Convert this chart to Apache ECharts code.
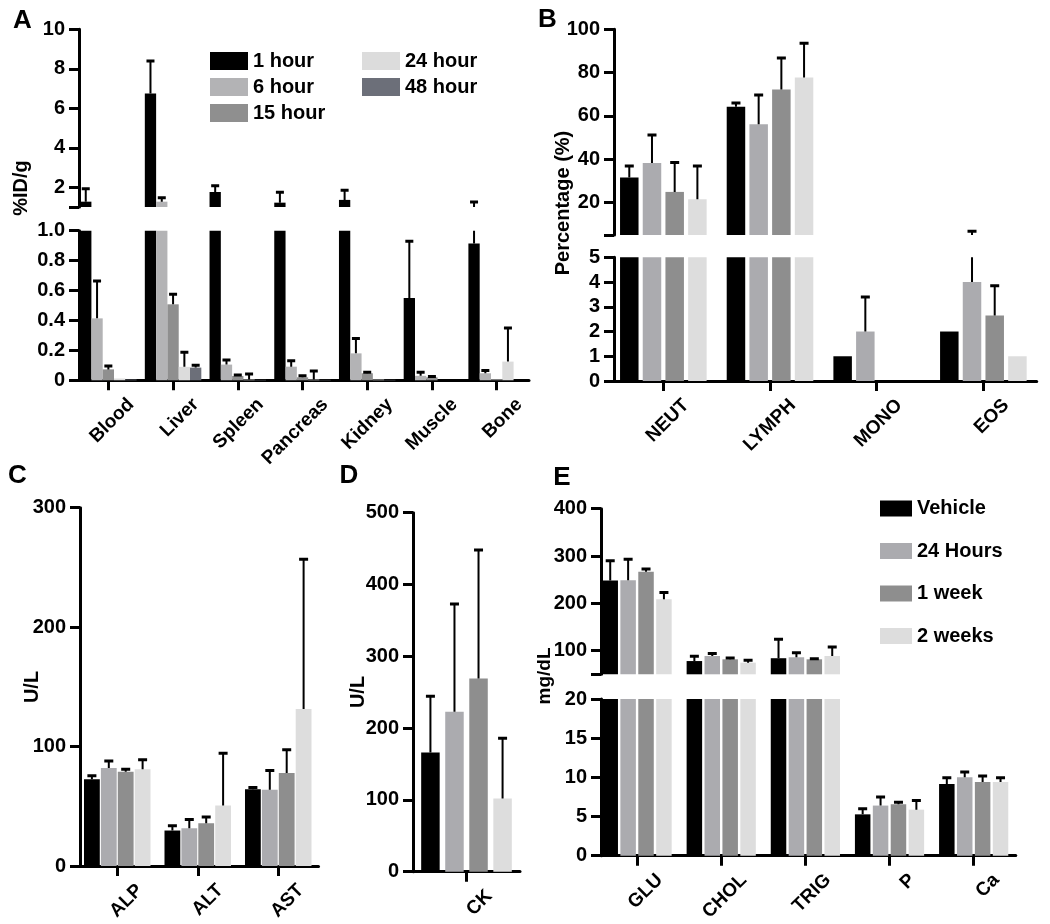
<!DOCTYPE html>
<html><head><meta charset="utf-8">
<script src="https://cdn.jsdelivr.net/npm/echarts@6/dist/echarts.min.js"></script>
<style>html,body{margin:0;padding:0;background:#fff}#c{width:1050px;height:924px}</style>
</head><body><div id="c"></div>
<script>
// ---------- Panel A: biodistribution ----------
const catsA = ['Blood','Liver','Spleen','Pancreas','Kidney','Muscle','Bone'];
const namesA = ['1 hour','6 hour','15 hour','24 hour','48 hour'];
const a1h   = [1.27, 6.75, 1.76, 1.22, 1.36, 0.55, 0.915];
const a1hE  = [0.66, 1.65, 0.31, 0.53, 0.49, 0.38, 0.335];
const a6h   = [0.414, 1.27, 0.105, 0.091, 0.18, 0.03, 0.047];
const a6hE  = [0.25, 0.20, 0.031, 0.04, 0.10, 0.023, 0.018];
const a15h  = [0.073, 0.508, 0.029, 0.02, 0.047, 0.02, 0.008];
const a15hE = [0.023, 0.067, 0.006, 0.01, 0.006, 0.005, 0];
const a24h  = [0.012, 0.09, 0.005, 0.005, 0.005, 0, 0.125];
const a24hE = [0, 0.097, 0.037, 0.057, 0, 0, 0.225];
const a48h  = [0.005, 0.085, 0.003, 0.003, 0.003, 0, 0];
const a48hE = [0, 0.015, 0, 0, 0, 0, 0];
const ticksAUp = [1, 2, 4, 6, 8, 10];
const labelsAUp = [2, 4, 6, 8, 10];

// ---------- Panel B: blood differential ----------
const catsB = ['NEUT','LYMPH','MONO','EOS'];
const namesG = ['Vehicle','24 Hours','1 week','2 weeks'];
const bVeh  = [31.5, 64.2, 1, 2];
const bVehE = [5.4, 1.8, 0, 0];
const b24   = [38.3, 56.2, 2, 4];
const b24E  = [12.9, 13.4, 1.4, 2.7];
const b1w   = [24.9, 72.2, 0, 2.65];
const b1wE  = [13.6, 14.6, 0, 1.2];
const b2w   = [21.5, 77.7, 0, 1];
const b2wE  = [15.4, 15.9, 0, 0];
const ticksBUp = [5, 20, 40, 60, 80, 100];
const labelsBUp = [20, 40, 60, 80, 100];

// ---------- Panel C: liver enzymes ----------
const catsC = ['ALP','ALT','AST'];
const cVeh  = [72.7, 29.7, 64.3];
const cVehE = [2.8, 4.1, 1.4];
const c24   = [82, 31.6, 63.8];
const c24E  = [6, 7.4, 16.2];
const c1w   = [79, 35.8, 77.8];
const c1wE  = [2, 5.2, 19.5];
const c2w   = [81, 50.6, 131.5];
const c2wE  = [8, 43.9, 125.3];

// ---------- Panel D: CK ----------
const catsD = ['CK'];
const dVeh = [166], dVehE = [78.5];
const d24  = [222.7], d24E = [150];
const d1w  = [269], d1wE = [179];
const d2w  = [102], d2wE = [84];

// ---------- Panel E: chemistry ----------
const catsE = ['GLU','CHOL','TRIG','P','Ca'];
const eVeh  = [248, 78, 84, 5.28, 9.16];
const eVehE = [42, 10, 40, 0.72, 0.8];
const e24   = [249, 88.7, 86, 6.4, 10.0];
const e24E  = [44, 5, 9.8, 1.08, 0.68];
const e1w   = [267, 81.7, 81.7, 6.56, 9.4];
const e1wE  = [5.5, 2.8, 1.3, 0.28, 0.76];
const e2w   = [208.5, 74.6, 88.7, 5.88, 9.4];
const e2wE  = [14.5, 5, 19, 1.16, 0.56];
const ticksEUp = [50, 100, 200, 300, 400];
const labelsEUp = [100, 200, 300, 400];

// ---------- styling ----------
const FONT = "'Liberation Sans', Arial, Helvetica, sans-serif";
const colA = ['#000000','#b3b3b5','#8f8f8f','#dcdcdc','#6c6f79'];
const colG = ['#000000','#ababaf','#8e8e8e','#dddddd'];

function yAx(gi, min, max, offset, interval, tickVals, labelVals, fmt) {
  const ax = {type:'value', gridIndex:gi, min:min, max:max, offset:offset,
    splitLine:{show:false},
    axisLine:{show:true, lineStyle:{color:'#000', width:3}},
    axisTick:{show:true, length:10, lineStyle:{color:'#000', width:3}},
    axisLabel:{color:'#000', fontSize:20, fontWeight:'bold', fontFamily:FONT, margin:14,
      formatter: fmt || function(v){ return String(Math.round(v)); }}
  };
  if (interval) ax.interval = interval;
  if (tickVals) { ax.axisTick.customValues = tickVals; ax.axisLabel.customValues = labelVals; }
  return ax;
}
function xAx(gi, cats, show) {
  return {type:'category', gridIndex:gi, data:cats, show:show,
    axisLine:{show:true, onZero:false, lineStyle:{color:'#000', width:3}},
    axisTick:{show:true, alignWithLabel:true, length:10, lineStyle:{color:'#000', width:3}},
    axisLabel:{interval:0, rotate:45, color:'#000', fontSize:19, fontWeight:'bold', fontFamily:FONT,
      margin:44, padding:[0,-32,0,0]}
  };
}
function bars(gi, name, data, color, bw, gap) {
  return {type:'bar', name:name, xAxisIndex:gi, yAxisIndex:gi, data:data, barWidth:bw, barGap:gap,
    itemStyle:{color:color}, clip:true, animation:false, emphasis:{disabled:true}};
}
function errs(gi, vals, es, bw, gapFrac, capHalf) {
  const n = vals.length;
  const data = [];
  vals.forEach(function(arr, si){ arr.forEach(function(v, ci){ const e = es[si][ci]; if (e > 0) data.push([ci, si, v + e, v]); }); });
  return {type:'custom', xAxisIndex:gi, yAxisIndex:gi, clip:true, silent:true, z:5, data:data,
    encode:{x:0, y:2}, animation:false,
    renderItem: function(params, api){
      const ci = api.value(0), si = api.value(1);
      const p1 = api.coord([ci, api.value(2)]);
      const p0 = api.coord([ci, api.value(3)]);
      const x = p0[0] + (si - (n-1)/2) * bw * (1 + gapFrac);
      return {type:'group', children:[
        {type:'line', shape:{x1:x, y1:p0[1], x2:x, y2:p1[1]}, style:{stroke:'#000', lineWidth:2}},
        {type:'line', shape:{x1:x-capHalf, y1:p1[1], x2:x+capHalf, y2:p1[1]}, style:{stroke:'#000', lineWidth:3}}
      ]};
    }};
}
function txt(x, y, text, size, rot) {
  return {type:'text', x:x, y:y, rotation:rot||0, silent:true,
    style:{text:text, font:'bold '+size+'px '+FONT, fill:'#000', align:'center', verticalAlign:'middle',
      textAlign:'center', textVerticalAlign:'middle'}};
}

const grids = [
  {left:76, top:29.3, width:453, height:177.7},     // A upper
  {left:76, top:230.7, width:453, height:149.6},    // A lower
  {left:610, top:29.3, width:426.7, height:205.7},  // B upper
  {left:610, top:257.3, width:426.7, height:123.7}, // B lower
  {left:77, top:507.7, width:241.5, height:358.3},  // C
  {left:413, top:512.7, width:107, height:359},     // D
  {left:595, top:508.7, width:420.75, height:165.6},// E upper
  {left:595, top:699, width:420.75, height:166.7}   // E lower
];

const xAxes = [
  xAx(0, catsA, false), xAx(1, catsA, true),
  xAx(2, catsB, false), xAx(3, catsB, true),
  xAx(4, catsC, true), xAx(5, catsD, true),
  xAx(6, catsE, false), xAx(7, catsE, true)
];
const yAxes = [
  yAx(0, 1, 10, -3, null, ticksAUp, labelsAUp),
  yAx(1, 0, 1, -3, 0.2, null, null, function(v){ return v === 0 ? '0' : v.toFixed(1); }),
  yAx(2, 5, 100, -4, null, ticksBUp, labelsBUp),
  yAx(3, 0, 5, -4, 1),
  yAx(4, 0, 300, -3, 100),
  yAx(5, 0, 500, 0, 100),
  yAx(6, 50, 400, -6, null, ticksEUp, labelsEUp),
  yAx(7, 0, 20, -6, 5)
];

const series = [];
const aVals = [a1h, a6h, a15h, a24h, a48h];
const aErrs = [a1hE, a6hE, a15hE, a24hE, a48hE];
[0, 1].forEach(function(gi){
  aVals.forEach(function(d, i){ series.push(bars(gi, namesA[i], d, colA[i], 11.3, '0%')); });
  series.push(errs(gi, aVals, aErrs, 11.3, 0, 4));
});
const bVals = [bVeh, b24, b1w, b2w], bErrs = [bVehE, b24E, b1wE, b2wE];
[2, 3].forEach(function(gi){
  bVals.forEach(function(d, i){ series.push(bars(gi, namesG[i], d, colG[i], 18.5, '22.7%')); });
  series.push(errs(gi, bVals, bErrs, 18.5, 0.227, 4.5));
});
const cVals = [cVeh, c24, c1w, c2w], cErrs = [cVehE, c24E, c1wE, c2wE];
cVals.forEach(function(d, i){ series.push(bars(4, namesG[i], d, colG[i], 15.8, '7%')); });
series.push(errs(4, cVals, cErrs, 15.8, 0.07, 4.5));
const dVals = [dVeh, d24, d1w, d2w], dErrs = [dVehE, d24E, d1wE, d2wE];
dVals.forEach(function(d, i){ series.push(bars(5, namesG[i], d, colG[i], 18.5, '30%')); });
series.push(errs(5, dVals, dErrs, 18.5, 0.30, 4.5));
const eVals = [eVeh, e24, e1w, e2w], eErrs = [eVehE, e24E, e1wE, e2wE];
[6, 7].forEach(function(gi){
  eVals.forEach(function(d, i){ series.push(bars(gi, namesG[i], d, colG[i], 15.5, '15.5%')); });
  series.push(errs(gi, eVals, eErrs, 15.5, 0.155, 4.5));
});

const legendText = {fontSize:20, fontWeight:'bold', color:'#000', fontFamily:FONT, lineHeight:18};
const option = {
  animation:false,
  backgroundColor:'#fff',
  grid: grids,
  xAxis: xAxes,
  yAxis: yAxes,
  legend: [
    {data:namesA.slice(0,3), orient:'vertical', left:210, top:51, itemWidth:38, itemHeight:18, itemGap:6,
      icon:'rect', selectedMode:false, textStyle:legendText, padding:0},
    {data:namesA.slice(3), orient:'vertical', left:362, top:51, itemWidth:38, itemHeight:18, itemGap:6,
      icon:'rect', selectedMode:false, textStyle:legendText, padding:0},
    {data:namesG, orient:'vertical', left:880, top:498.5, itemWidth:32, itemHeight:16, itemGap:22.5,
      icon:'rect', selectedMode:false, textStyle:Object.assign({}, legendText, {lineHeight:16}), padding:0}
  ],
  graphic: [
    txt(22.5, 21, 'A', 26), txt(547.5, 19.5, 'B', 26), txt(17.5, 476, 'C', 26),
    txt(349, 476, 'D', 26), txt(562, 478, 'E', 26),
    txt(21, 188, '%ID/g', 20, Math.PI/2),
    txt(563, 203, 'Percentage (%)', 20, Math.PI/2),
    txt(32, 687, 'U/L', 20, Math.PI/2),
    txt(358, 692, 'U/L', 20, Math.PI/2),
    txt(545, 676, 'mg/dL', 19, Math.PI/2)
  ],
  series: series
};
const chart = echarts.init(document.getElementById('c'), null, {renderer:'canvas'});
chart.setOption(option);
</script></body></html>
